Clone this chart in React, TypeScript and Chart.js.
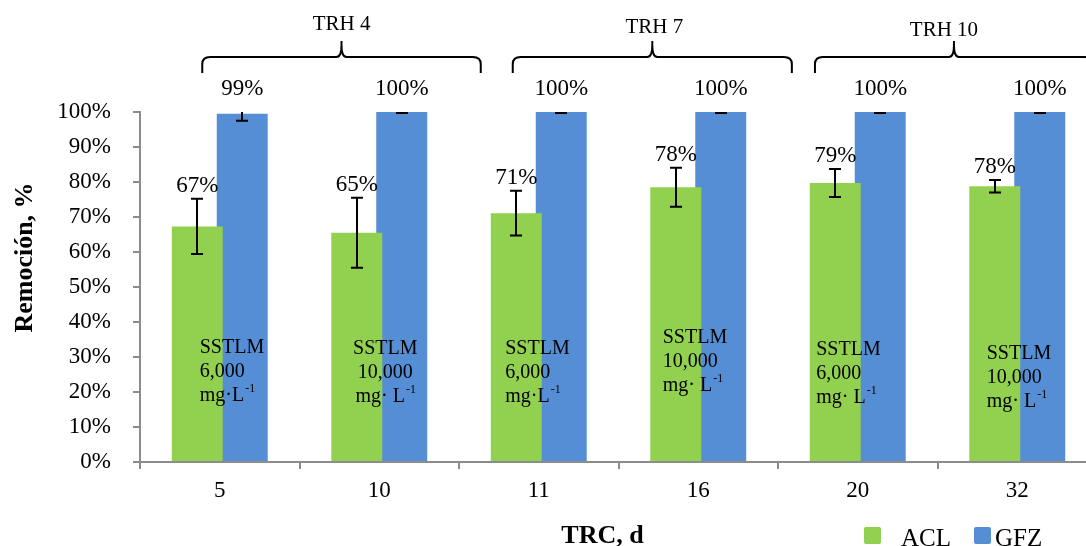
import React, { useEffect, useRef } from 'react';
import { Chart, registerables } from 'chart.js';

Chart.register(...registerables);

const FONT = '"Liberation Serif", "Times New Roman", Times, serif';

// ---- data ----
const categories = ['5', '10', '11', '16', '20', '32'];
const aclValues = [67.3, 65.5, 71.1, 78.5, 79.7, 78.8];
const aclErrors = [7.9, 10.0, 6.4, 5.6, 4.0, 1.8];
const gfzValues = [99.5, 100, 100, 100, 100, 100];
const gfzErrors = [2.0, 0.3, 0.3, 0.3, 0.3, 0.3];
const seriesNames = ['ACL', 'GFZ'];
const seriesColors = ['#92D050', '#558ED5'];
const sstlmConc = ['6,000', '10,000', '6,000', '10,000', '6,000', '10,000'];
const trhGroups = [
  { label: 'TRH 4', from: 0, to: 1 },
  { label: 'TRH 7', from: 2, to: 3 },
  { label: 'TRH 10', from: 4, to: 5 },
];
const yAxisTitle = 'Remoción, %';
const xAxisTitle = 'TRC, d';

// ---- annotation layout (pixel offsets relative to category centres) ----
const sstlmLayout = [
  { dx: -20, yv: 32.6, align: 'left', sp: '' },
  { dx: 6, yv: 32.3, align: 'center', sp: ' ' },
  { dx: -33.5, yv: 32.3, align: 'left', sp: '' },
  { dx: -35.5, yv: 35.4, align: 'left', sp: ' ' },
  { dx: -41.5, yv: 32.0, align: 'left', sp: ' ' },
  { dx: -30.5, yv: 30.9, align: 'left', sp: ' ' },
];
const bracketLayout = [
  { l: -17.5, r: 101.5, tdx: 0, ty: 30 },
  { l: -26, r: 93.6, tdx: 2, ty: 33 },
  { l: -42.8, r: 75.7, tdx: -10, ty: 36 },
];

const overlayPlugin = {
  id: 'overlay',
  afterDatasetsDraw(chart: any) {
    const { ctx, chartArea, scales } = chart;
    const xs = scales.x;
    const ys = scales.y;
    const errs = [aclErrors, gfzErrors];

    // error bars (clipped to plot area)
    ctx.save();
    ctx.beginPath();
    ctx.rect(chartArea.left, chartArea.top, chartArea.right - chartArea.left, chartArea.bottom - chartArea.top + 2);
    ctx.clip();
    ctx.strokeStyle = '#000';
    ctx.lineWidth = 2;
    chart.data.datasets.forEach((ds: any, di: number) => {
      const meta = chart.getDatasetMeta(di);
      meta.data.forEach((bar: any, i: number) => {
        const v = ds.data[i];
        const e = errs[di][i];
        const yt = ys.getPixelForValue(v + e);
        const yb = ys.getPixelForValue(v - e);
        const cx = Math.round(bar.x);
        ctx.beginPath();
        ctx.moveTo(cx, yt);
        ctx.lineTo(cx, yb);
        ctx.moveTo(cx - 6, yt);
        ctx.lineTo(cx + 6, yt);
        ctx.moveTo(cx - 6, yb);
        ctx.lineTo(cx + 6, yb);
        ctx.stroke();
      });
    });
    ctx.restore();

    // value labels
    ctx.save();
    ctx.fillStyle = '#000';
    ctx.font = `23px ${FONT}`;
    ctx.textAlign = 'center';
    ctx.textBaseline = 'middle';
    chart.data.datasets.forEach((ds: any, di: number) => {
      const meta = chart.getDatasetMeta(di);
      meta.data.forEach((bar: any, i: number) => {
        const v = ds.data[i];
        const e = errs[di][i];
        const yy = di === 0 ? ys.getPixelForValue(v + e) - 13 : ys.getPixelForValue(Math.min(v + e, 100)) - 23;
        ctx.fillText(Math.floor(v) + '%', bar.x, yy);
      });
    });
    ctx.restore();

    // SSTLM annotations
    ctx.save();
    ctx.fillStyle = '#000';
    ctx.textBaseline = 'middle';
    categories.forEach((_, i) => {
      const lay = sstlmLayout[i];
      const cx = xs.getPixelForValue(i) + lay.dx;
      const y0 = ys.getPixelForValue(lay.yv);
      ctx.font = `20px ${FONT}`;
      const main = 'mg·' + lay.sp + 'L';
      const lines = ['SSTLM', sstlmConc[i]];
      ctx.textAlign = lay.align;
      lines.forEach((t, k) => ctx.fillText(t, cx, y0 + k * 24));
      // third line with superscript
      const w = ctx.measureText(main).width;
      ctx.font = `12px ${FONT}`;
      const ws = ctx.measureText('-1').width;
      const total = w + ws;
      let lx = cx;
      if (lay.align === 'center') lx = cx - total / 2;
      ctx.textAlign = 'left';
      ctx.font = `20px ${FONT}`;
      ctx.fillText(main, lx, y0 + 48);
      ctx.font = `12px ${FONT}`;
      ctx.fillText('-1', lx + w + 1, y0 + 48 - 7);
    });
    ctx.restore();

    // TRH brackets
    ctx.save();
    ctx.strokeStyle = '#000';
    ctx.fillStyle = '#000';
    ctx.lineWidth = 2;
    const hy = 57;
    const endY = 73;
    const tipY = 41;
    trhGroups.forEach((g, gi) => {
      const lay = bracketLayout[gi];
      const left = xs.getPixelForValue(g.from) + lay.l;
      const right = xs.getPixelForValue(g.to) + lay.r;
      const peak = (left + right) / 2;
      ctx.beginPath();
      ctx.moveTo(left, endY);
      ctx.lineTo(left, hy + 7);
      ctx.quadraticCurveTo(left, hy, left + 8, hy);
      ctx.lineTo(peak - 5, hy);
      ctx.quadraticCurveTo(peak, hy, peak, tipY + 4);
      ctx.lineTo(peak, tipY);
      ctx.moveTo(peak, tipY + 4);
      ctx.quadraticCurveTo(peak, hy, peak + 5, hy);
      ctx.lineTo(right - 8, hy);
      ctx.quadraticCurveTo(right, hy, right, hy + 7);
      ctx.lineTo(right, endY);
      ctx.stroke();
      ctx.font = `21px ${FONT}`;
      ctx.textAlign = 'center';
      ctx.textBaseline = 'alphabetic';
      ctx.fillText(g.label, peak + lay.tdx, lay.ty);
    });
    ctx.restore();

    // axis titles
    ctx.save();
    ctx.fillStyle = '#000';
    ctx.font = `bold 26px ${FONT}`;
    ctx.textAlign = 'center';
    ctx.textBaseline = 'alphabetic';
    ctx.fillText(xAxisTitle, 602.5, 543);
    ctx.translate(32, 257.5);
    ctx.rotate(-Math.PI / 2);
    ctx.fillText(yAxisTitle, 0, 0);
    ctx.restore();

    // legend
    ctx.save();
    const legendItems = [
      { sx: 864, tx: 901 },
      { sx: 974, tx: 995 },
    ];
    seriesNames.forEach((name, i) => {
      const it = legendItems[i];
      ctx.fillStyle = seriesColors[i];
      ctx.beginPath();
      (ctx as any).roundRect(it.sx, 527, 17, 17, 2);
      ctx.fill();
      ctx.fillStyle = '#000';
      ctx.font = `25px ${FONT}`;
      ctx.textAlign = 'left';
      ctx.textBaseline = 'alphabetic';
      ctx.fillText(name, it.tx, 546);
    });
    ctx.restore();
  },
};

export default function App() {
  const ref = useRef<HTMLCanvasElement | null>(null);
  useEffect(() => {
    document.body.style.margin = '0';
    const canvas = ref.current;
    if (!canvas) return;
    const axisColor = '#8c8c8c';
    const chart = new Chart(canvas, {
      type: 'bar',
      data: {
        labels: categories,
        datasets: [
          {
            label: seriesNames[0],
            data: aclValues,
            backgroundColor: seriesColors[0],
            borderWidth: 0,
            categoryPercentage: 0.564,
            barPercentage: 1.133,
          },
          {
            label: seriesNames[1],
            data: gfzValues,
            backgroundColor: seriesColors[1],
            borderWidth: 0,
            categoryPercentage: 0.564,
            barPercentage: 1.133,
          },
        ],
      },
      options: {
        animation: false,
        responsive: false,
        maintainAspectRatio: false,
        layout: { padding: { left: 0, top: 112, right: 13, bottom: 0 } },
        plugins: {
          legend: { display: false },
          tooltip: { enabled: false },
        },
        scales: {
          x: {
            offset: true,
            grid: {
              display: true,
              offset: true,
              drawOnChartArea: false,
              drawTicks: true,
              tickLength: 7,
              color: axisColor,
              lineWidth: 2,
            },
            border: { display: true, color: axisColor, width: 2 },
            ticks: {
              color: '#000',
              font: { family: FONT, size: 23 },
              padding: 8,
              maxRotation: 0,
              autoSkip: false,
            },
            afterFit: (s: any) => {
              s.height = 84;
            },
          },
          y: {
            min: 0,
            max: 100,
            grid: {
              display: true,
              drawOnChartArea: false,
              drawTicks: true,
              tickLength: 7,
              color: axisColor,
              lineWidth: 2,
            },
            border: { display: true, color: axisColor, width: 2 },
            ticks: {
              stepSize: 10,
              color: '#000',
              font: { family: FONT, size: 23 },
              padding: 22,
              callback: (v: any) => v + '%',
            },
            afterFit: (s: any) => {
              s.width = 140;
            },
          },
        },
      },
      plugins: [overlayPlugin],
    } as any);
    return () => chart.destroy();
  }, []);
  return (
    <div style={{ width: 1086, height: 546, overflow: 'hidden', position: 'relative', background: '#fff' }}>
      <canvas ref={ref} width={1110} height={546} style={{ display: 'block' }} />
    </div>
  );
}
